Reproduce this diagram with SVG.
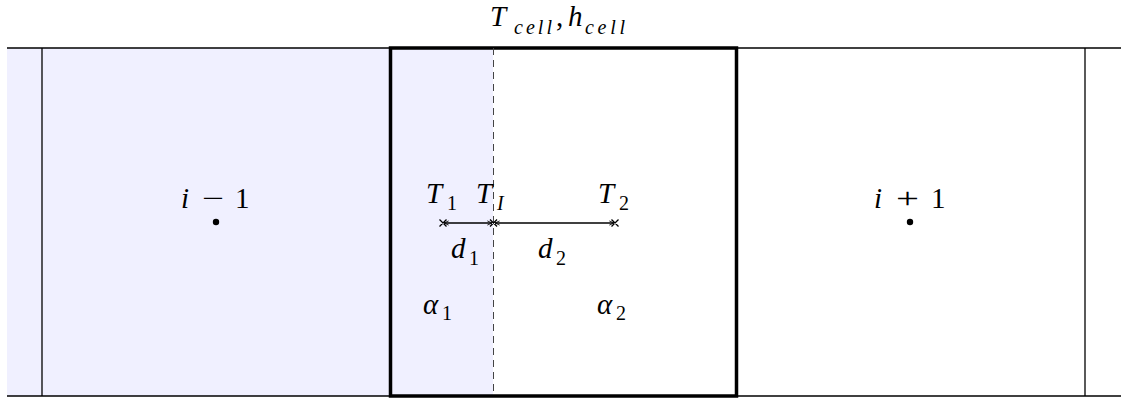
<svg xmlns="http://www.w3.org/2000/svg" width="1121" height="398" viewBox="0 0 1121 398">
<style>
text{font-family:'Liberation Serif','DejaVu Serif',serif;font-size:29px;fill:#000}
.it{font-style:italic}
.sub{font-size:20px}
.thin{stroke:#000;stroke-width:1.3;fill:none}
</style>
<defs>
<marker id="ah" viewBox="0 0 10 10" refX="10" refY="5" markerWidth="4" markerHeight="4" orient="auto-start-reverse"><path d="M1,1 L10,5 L1,9" fill="none" stroke="#000" stroke-width="1.6"/></marker>
</defs>
<g id="shading"><rect x="7" y="48" width="486" height="348" fill="#f0f0ff"/></g>
<g id="grid">
<line class="thin" x1="7" y1="48" x2="1121" y2="48"/>
<line class="thin" x1="7" y1="396" x2="1121" y2="396"/>
<line class="thin" x1="42" y1="48" x2="42" y2="396"/>
<line class="thin" x1="1085" y1="48" x2="1085" y2="396"/>
</g>
<g id="cell">
<rect x="390.5" y="48" width="346" height="348" fill="none" stroke="#000" stroke-width="3.5"/>
<line x1="493.5" y1="48" x2="493.5" y2="396" stroke="#444" stroke-width="1" stroke-dasharray="7,5"/>
</g>
<g id="title">
<text class="it" x="490" y="26">T</text>
<text class="it sub" x="514" y="34" textLength="38" lengthAdjust="spacing">cell</text>
<text x="556" y="26">,</text>
<text class="it" x="568" y="26">h</text>
<text class="it sub" x="585" y="34" textLength="40" lengthAdjust="spacing">cell</text>
</g>
<g id="node-im1">
<text class="it" x="181" y="208">i</text>
<text x="202" y="208" textLength="22" lengthAdjust="spacingAndGlyphs">−</text>
<text x="235" y="208">1</text>
<circle cx="216" cy="222" r="3.2"/>
</g>
<g id="node-ip1">
<text class="it" x="874" y="208">i</text>
<text x="896" y="208" textLength="23" lengthAdjust="spacingAndGlyphs">+</text>
<text x="931" y="208">1</text>
<circle cx="910" cy="222" r="3.2"/>
</g>
<g id="labels">
<text class="it" x="426" y="203">T</text><text class="sub" x="447" y="210">1</text>
<text class="it" x="476" y="203">T</text><text class="it sub" x="497" y="210">I</text>
<text class="it" x="598" y="203">T</text><text class="sub" x="619" y="210">2</text>
<text class="it" x="451" y="258">d</text><text class="sub" x="469" y="265">1</text>
<text class="it" x="538" y="258">d</text><text class="sub" x="556" y="265">2</text>
<text class="it" x="423" y="314">α</text><text class="sub" x="442" y="320">1</text>
<text class="it" x="597" y="314">α</text><text class="sub" x="616" y="320">2</text>
</g>
<g id="connectors">
<line class="thin" x1="444" y1="223" x2="492" y2="223" marker-start="url(#ah)" marker-end="url(#ah)"/>
<line class="thin" x1="495" y1="223" x2="614" y2="223" marker-start="url(#ah)" marker-end="url(#ah)"/>
<path class="thin" d="M439.5,219.5 l7,7 M446.5,219.5 l-7,7 M490,219.5 l7,7 M497,219.5 l-7,7 M611.5,219.5 l7,7 M618.5,219.5 l-7,7"/>
</g>
</svg>
